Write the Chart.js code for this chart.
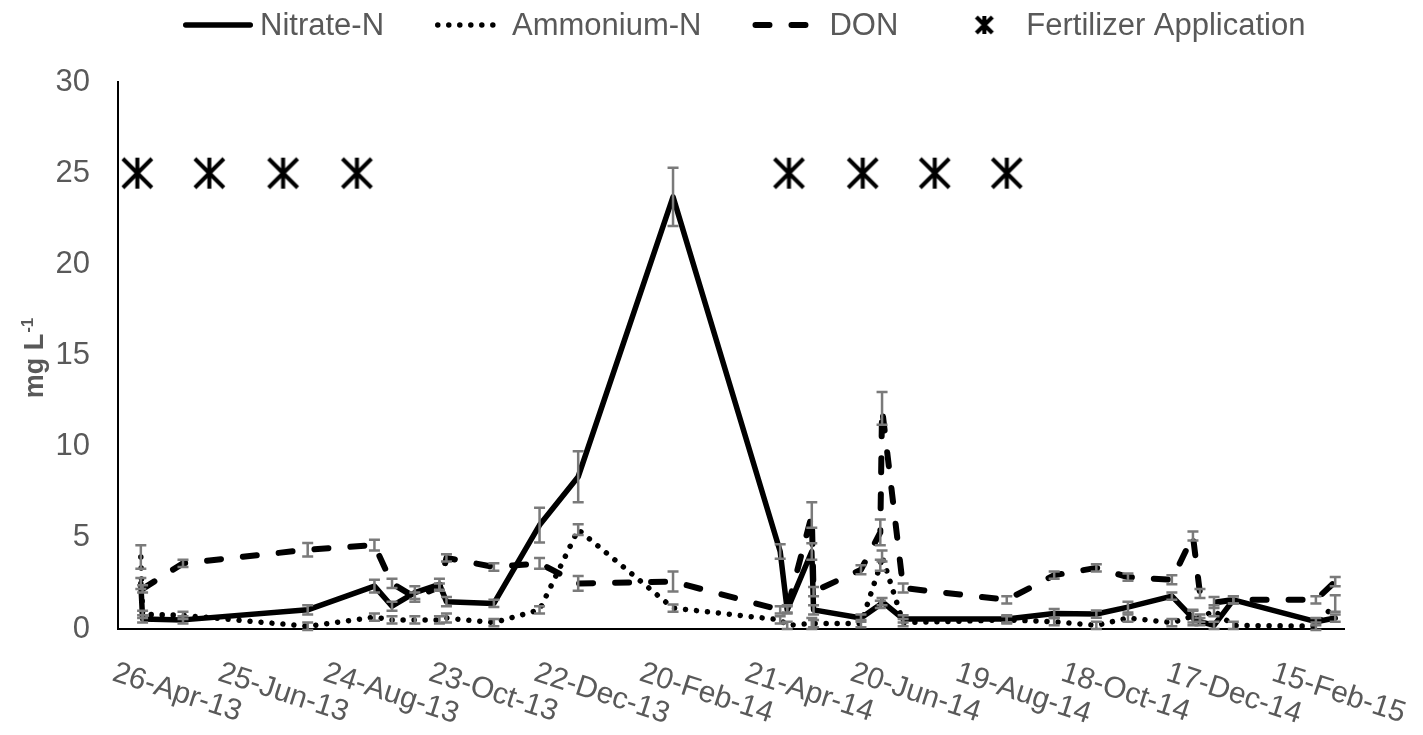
<!DOCTYPE html>
<html><head><meta charset="utf-8">
<script src="https://cdn.jsdelivr.net/npm/chart.js@4.4.1/dist/chart.umd.min.js"></script>
<style>html,body{margin:0;padding:0;background:#fff;}canvas{display:block;}</style>
</head><body>
<canvas id="c" width="1423" height="735"></canvas>
<script>
// ---- data (x = days after 26-Apr-13) ----
const sampleDays = [13,14,37,108,146,156,169,183,187,214,240,262,316,377,381,395,396,423,434,435,447,506,533,557,575,600,612,616,624,635,682,693];
const nitrate    = [2.5,0.55,0.5,1.05,2.35,1.25,2.0,2.45,1.5,1.4,5.7,8.35,23.7,4.25,1.05,4.25,1.05,0.6,1.35,1.5,0.55,0.55,0.85,0.82,1.2,1.8,0.6,0.4,0.2,1.6,0.4,0.6];
const nitrateErr = [0.3,0.2,0.2,0.25,0.35,0.25,0.35,0.3,0.25,0.2,0.95,1.4,1.6,0.4,0.2,0.45,0.25,0.2,0.2,0.2,0.2,0.2,0.25,0.2,0.3,0.2,0.4,0.2,0.2,0.2,0.2,0.2];
const ammonium   = [3.95,0.8,0.75,0.15,0.65,0.5,0.5,0.5,0.6,0.35,1.05,5.45,1.15,0.5,0.2,0.3,0.3,0.3,3.5,4.0,0.35,0.5,0.4,0.2,0.6,0.35,0.7,0.6,1.0,0.2,0.15,1.4];
const ammoniumErr= [0.65,0.2,0.2,0.2,0.2,0.2,0.2,0.2,0.25,0.2,0.2,0.3,0.2,0.2,0.2,0.3,0.2,0.2,0.3,0.3,0.2,0.2,0.2,0.2,0.2,0.2,0.35,0.2,0.3,0.2,0.2,0.45];
const don        = [null,2.2,3.6,4.35,4.6,2.5,1.75,2.3,3.9,3.4,3.6,2.5,2.6,1.05,1.1,6.25,2.05,3.25,5.3,12.1,2.25,1.6,2.95,3.35,2.85,2.7,5.1,1.95,1.45,1.6,1.6,2.6];
const donErr     = [null,0.2,0.2,0.37,0.3,0.25,0.25,0.2,0.2,0.2,0.3,0.4,0.55,0.2,0.2,0.7,0.25,0.25,0.7,0.9,0.25,0.2,0.2,0.2,0.2,0.25,0.25,0.25,0.3,0.2,0.2,0.25];
const fertDays   = [11,52,94,136,382,424,465,506];
const fertLevel  = [25,25,25,25,25,25,25,25];
const tickDays   = [0,60,120,180,240,300,360,420,480,540,600,660];
const tickLabels = ['26-Apr-13','25-Jun-13','24-Aug-13','23-Oct-13','22-Dec-13','20-Feb-14','21-Apr-14','20-Jun-14','19-Aug-14','18-Oct-14','17-Dec-14','15-Feb-15'];
const seriesNames = ['Nitrate-N','Ammonium-N','DON','Fertilizer Application'];
const yTitleMain = 'mg L', yTitleSup = '-1';

const FONT = '"Liberation Sans", Arial, sans-serif';
const GREY = '#595959';

function makeAsterisk(size, lw){
  const pad = lw;
  const c = document.createElement('canvas');
  c.width = c.height = Math.ceil(size + pad*2);
  const g = c.getContext('2d');
  g.strokeStyle = '#000'; g.lineWidth = lw; g.lineCap = 'butt';
  const a = pad, b = pad + size, m = pad + size/2;
  g.beginPath();
  g.moveTo(a,a); g.lineTo(b,b);
  g.moveTo(b,a); g.lineTo(a,b);
  g.moveTo(m,a-1); g.lineTo(m,b+1);
  g.stroke();
  return c;
}
const starBig = makeAsterisk(29, 4);
const starSmall = makeAsterisk(16, 4);

const pts = vals => sampleDays.map((d,i)=>({x:d, y:vals[i]}));

const errorBars = {
  id:'errorBars',
  afterDatasetsDraw(chart){
    const ctx = chart.ctx, ys = chart.scales.y;
    ctx.save();
    ctx.strokeStyle = '#7a7a7a'; ctx.lineWidth = 2.5; ctx.setLineDash([]); ctx.lineCap='butt';
    chart.data.datasets.forEach((ds,di)=>{
      if(!ds.errors) return;
      const meta = chart.getDatasetMeta(di);
      meta.data.forEach((pt,i)=>{
        const v = ds.data[i].y, e = ds.errors[i];
        if(v == null || e == null) return;
        const x = pt.x, y1 = ys.getPixelForValue(v+e), y2 = ys.getPixelForValue(v-e);
        ctx.beginPath();
        ctx.moveTo(x,y1); ctx.lineTo(x,y2);
        ctx.moveTo(x-5.5,y1); ctx.lineTo(x+5.5,y1);
        ctx.moveTo(x-5.5,y2); ctx.lineTo(x+5.5,y2);
        ctx.stroke();
      });
    });
    ctx.restore();
  }
};

const decorations = {
  id:'decorations',
  afterDraw(chart){
    const ctx = chart.ctx, xs = chart.scales.x, area = chart.chartArea;
    // x tick labels, rotated clockwise
    ctx.save();
    ctx.font = '30px ' + FONT; ctx.fillStyle = GREY; ctx.textAlign='left'; ctx.textBaseline='alphabetic';
    tickDays.forEach((d,i)=>{
      const px = xs.getPixelForValue(d);
      ctx.save(); ctx.translate(px-7, 680); ctx.rotate(18*Math.PI/180);
      ctx.fillText(tickLabels[i], 0, 0); ctx.restore();
    });
    ctx.restore();
    // y title
    ctx.save();
    ctx.fillStyle = GREY; ctx.textBaseline='alphabetic'; ctx.textAlign='left';
    ctx.font = 'bold 27px ' + FONT;
    const w1 = ctx.measureText(yTitleMain).width;
    ctx.font = 'bold 17px ' + FONT;
    const w2 = ctx.measureText(yTitleSup).width;
    ctx.translate(43, (area.top+area.bottom)/2 + 3);
    ctx.rotate(-Math.PI/2);
    const sx = -(w1+w2)/2;
    ctx.font = 'bold 27px ' + FONT; ctx.fillText(yTitleMain, sx, 0);
    ctx.font = 'bold 17px ' + FONT; ctx.fillText(yTitleSup, sx + w1 + 1, -10);
    ctx.restore();
    // legend
    ctx.save();
    ctx.font = '31px ' + FONT; ctx.textBaseline='middle'; ctx.textAlign='left';
    const ly = 25; let x = 183;
    const sampleW = 70, textGap = 7, itemGap = 51;
    chart.data.datasets.forEach((ds,i)=>{
      ctx.save();
      if(ds.showLine === false){
        ctx.drawImage(starSmall, x + sampleW/2 - starSmall.width/2, ly - starSmall.height/2);
      } else {
        ctx.strokeStyle = ds.borderColor; ctx.lineWidth = ds.borderWidth;
        ctx.lineCap = ds.borderCapStyle || 'butt';
        ctx.setLineDash(ds.borderDash || []);
        const inset = (ds.borderCapStyle==='round') ? ds.borderWidth/2 : 0;
        ctx.beginPath(); ctx.moveTo(x+inset, ly); ctx.lineTo(x+sampleW-inset, ly); ctx.stroke();
      }
      ctx.restore();
      ctx.fillStyle = GREY;
      ctx.fillText(seriesNames[i], x + sampleW + textGap, ly + 1);
      x += sampleW + textGap + ctx.measureText(seriesNames[i]).width + itemGap;
    });
    ctx.restore();
  }
};

new Chart(document.getElementById('c'), {
  type:'line',
  data:{
    datasets:[
      {label:seriesNames[0], data:pts(nitrate), errors:nitrateErr, borderColor:'#000', borderWidth:5.5,
       borderJoinStyle:'round', borderCapStyle:'round', pointRadius:0, tension:0},
      {label:seriesNames[1], data:pts(ammonium), errors:ammoniumErr, borderColor:'#000', borderWidth:5.5,
       borderDash:[0.01,11], borderCapStyle:'round', borderJoinStyle:'round', pointRadius:0, tension:0},
      {label:seriesNames[2], data:pts(don), errors:donErr, borderColor:'#000', borderWidth:6,
       borderDash:[14,22], borderCapStyle:'round', borderJoinStyle:'round', spanGaps:true, pointRadius:0, tension:0},
      {label:seriesNames[3], data:fertDays.map((d,i)=>({x:d,y:fertLevel[i]})), showLine:false,
       pointStyle:starBig, pointRadius:15, borderColor:'#000', backgroundColor:'#000'}
    ]
  },
  options:{
    responsive:false, animation:false, devicePixelRatio:1,
    layout:{padding:{top:82,right:79,left:0,bottom:0}},
    plugins:{legend:{display:false}, tooltip:{enabled:false}, title:{display:false}},
    scales:{
      x:{type:'linear', min:0, max:698,
         grid:{display:false, drawTicks:false}, border:{display:true, color:'#000', width:2},
         ticks:{display:false}, afterFit(s){ s.height = 106; }},
      y:{type:'linear', min:0, max:30,
         grid:{display:false, drawTicks:false}, border:{display:true, color:'#000', width:2},
         ticks:{stepSize:5, color:GREY, padding:28, font:{family:FONT, size:31}},
         afterFit(s){ s.width = 118; }}
    }
  },
  plugins:[errorBars, decorations]
});
</script>
</body></html>
